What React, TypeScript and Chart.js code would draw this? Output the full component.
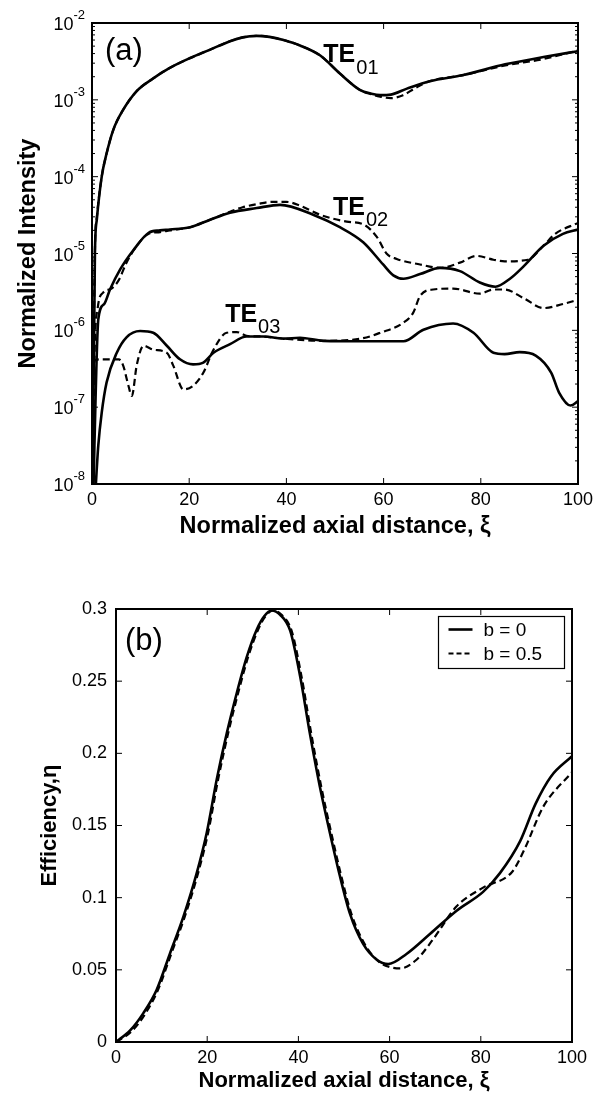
import React, { useEffect, useRef } from "react";
import { Chart, registerables } from "chart.js";

Chart.register(...registerables);

const FONT = "'Liberation Sans', Arial, Helvetica, sans-serif";

// ---------- Panel (a): normalized intensity (log) ----------
const te01SolidX = [0, 0.6, 1.0, 2.0, 3.0, 4.4, 6.4, 9.2, 12.6, 16, 20.2, 24.3, 28.4, 31, 33.9, 36.5, 39.4, 42.8, 46.9, 51, 55.1, 57.5, 59.3, 61.5, 64.8, 69.5, 76.4, 85, 92.9, 100];
const te01SolidY = [1e-9, 1.0e-5, 2.8e-5, 1.0e-4, 2.0e-4, 4.1e-4, 7.4e-4, 1.3e-3, 1.9e-3, 2.6e-3, 3.5e-3, 4.5e-3, 5.8e-3, 6.5e-3, 6.8e-3, 6.6e-3, 6.0e-3, 5.1e-3, 3.8e-3, 2.2e-3, 1.35e-3, 1.2e-3, 1.15e-3, 1.17e-3, 1.4e-3, 1.75e-3, 2.1e-3, 2.9e-3, 3.6e-3, 4.3e-3];
const te01DashX = [0, 0.6, 1.0, 2.0, 3.0, 4.4, 6.4, 9.2, 12.6, 16, 20.2, 24.3, 28.4, 31, 33.9, 36.5, 39.4, 42.8, 46.9, 51, 55.1, 57.5, 59.3, 61.5, 64, 66.5, 69.5, 76.4, 85, 92.9, 100];
const te01DashY = [1e-9, 1.1e-5, 3.0e-5, 1.0e-4, 2.0e-4, 4.1e-4, 7.4e-4, 1.3e-3, 1.9e-3, 2.6e-3, 3.5e-3, 4.5e-3, 5.8e-3, 6.5e-3, 6.8e-3, 6.6e-3, 6.0e-3, 5.1e-3, 3.8e-3, 2.2e-3, 1.35e-3, 1.18e-3, 1.1e-3, 1.05e-3, 1.15e-3, 1.42e-3, 1.75e-3, 2.1e-3, 2.8e-3, 3.4e-3, 4.4e-3];

const te02SolidX = [0, 0.5, 1.3, 2.5, 3.7, 5.8, 8.5, 11.6, 14, 16, 20.2, 24.3, 28.4, 33.9, 38.7, 45.5, 51, 55.8, 59.9, 62, 64.1, 67.5, 71.6, 75.7, 79.8, 83, 86, 88.9, 92.9, 96.9, 100];
const te02SolidY = [1e-9, 3.2e-8, 1.4e-6, 2.2e-6, 3.4e-6, 6.2e-6, 1.1e-5, 1.85e-5, 2.0e-5, 2.05e-5, 2.2e-5, 2.75e-5, 3.4e-5, 3.9e-5, 4.3e-5, 3.2e-5, 2.2e-5, 1.4e-5, 7.2e-6, 5.2e-6, 4.7e-6, 5.4e-6, 6.5e-6, 5.9e-6, 4.2e-6, 3.7e-6, 4.7e-6, 6.9e-6, 1.26e-5, 1.8e-5, 2.05e-5];
const te02DashX = [0, 0.5, 1.2, 2.3, 4, 5.5, 7.1, 9.2, 11.6, 14, 16, 20.2, 24.3, 28.4, 31, 34, 37, 40, 42.8, 46.9, 52.4, 55.8, 58.6, 60.6, 62.7, 67.5, 71.6, 75.7, 79.1, 82.6, 84.9, 89.7, 92.9, 95.3, 100];
const te02DashY = [1e-9, 4e-7, 2e-6, 3.1e-6, 3.5e-6, 4.5e-6, 7.6e-6, 1.26e-5, 1.8e-5, 1.9e-5, 2.0e-5, 2.2e-5, 2.75e-5, 3.5e-5, 4.0e-5, 4.4e-5, 4.7e-5, 4.7e-5, 4.2e-5, 3.2e-5, 2.6e-5, 2.4e-5, 1.65e-5, 1.0e-5, 8.5e-6, 7.2e-6, 6.5e-6, 7.6e-6, 9.3e-6, 8.3e-6, 7.9e-6, 8.3e-6, 1.26e-5, 1.8e-5, 2.5e-5];

const te03SolidX = [0, 0.8, 1.3, 2, 3, 5.1, 7.1, 9.9, 12.6, 15.4, 18.1, 20.8, 22.9, 25, 28.4, 31.8, 35.2, 39.4, 42.8, 47.6, 55.8, 64.1, 68.2, 74.3, 78.5, 82.6, 84.9, 88, 91.3, 94.5, 96.1, 98.5, 100];
const te03SolidY = [1e-9, 1e-8, 3.2e-8, 8.5e-8, 2.1e-7, 5.1e-7, 8.1e-7, 9.8e-7, 9.3e-7, 6.3e-7, 4.2e-7, 3.6e-7, 3.8e-7, 5.1e-7, 6.6e-7, 8.3e-7, 8.3e-7, 7.8e-7, 8.0e-7, 7.3e-7, 7.2e-7, 7.2e-7, 1.02e-6, 1.23e-6, 9.3e-7, 5.1e-7, 4.9e-7, 5.2e-7, 4.7e-7, 2.8e-7, 1.55e-7, 1.05e-7, 1.2e-7];
const te03DashX = [0, 0.4, 2, 4, 5.5, 6.4, 7.5, 8.2, 9.2, 10.6, 12.6, 15.4, 16.7, 18.8, 20.8, 22.9, 25, 27.7, 29.8, 31.8, 35.2, 39.4, 47.6, 55.8, 59.3, 64.1, 66.1, 67.5, 70.2, 74.3, 79.8, 82.6, 84.9, 88.9, 92.9, 96.9, 100];
const te03DashY = [1e-9, 4e-7, 4.2e-7, 4.2e-7, 4.2e-7, 3.5e-7, 1.9e-7, 1.4e-7, 3.5e-7, 6.3e-7, 5.6e-7, 5.1e-7, 3.5e-7, 1.7e-7, 1.9e-7, 2.8e-7, 5.6e-7, 9.3e-7, 9.5e-7, 8.5e-7, 8.3e-7, 7.8e-7, 7.3e-7, 7.9e-7, 9.3e-7, 1.26e-6, 1.7e-6, 2.8e-6, 3.4e-6, 3.5e-6, 3.0e-6, 3.4e-6, 3.4e-6, 2.6e-6, 1.95e-6, 2.2e-6, 2.5e-6];

const yExpA = [-8, -7, -6, -5, -4, -3, -2];
const xTicks = [0, 20, 40, 60, 80, 100];
const modeNames = ["TE", "TE", "TE"];
const modeSubs = ["01", "02", "03"];
const modeLabelX = [47.6, 49.6, 27.4];
const modeLabelY = [3.1e-3, 3.2e-5, 1.3e-6];

// ---------- Panel (b): efficiency ----------
const effSolidX = [0, 3.1, 6, 8.9, 11.8, 14.8, 17.7, 19.9, 22.1, 24.3, 26.5, 28.7, 30.9, 32.5, 34.1, 36, 38.2, 40.4, 42.5, 44.7, 46.9, 49.1, 51.3, 54.2, 57.2, 59.7, 63.7, 68.9, 74.7, 80.5, 84.2, 88.6, 92, 95.4, 100];
const effSolidY = [0, 0.008, 0.02, 0.036, 0.061, 0.087, 0.117, 0.145, 0.182, 0.214, 0.242, 0.267, 0.286, 0.295, 0.299, 0.296, 0.285, 0.253, 0.214, 0.177, 0.145, 0.115, 0.089, 0.068, 0.057, 0.054, 0.061, 0.075, 0.091, 0.104, 0.117, 0.139, 0.165, 0.184, 0.198];
const effDashX = [0, 3.3, 6.3, 9.2, 12.1, 15.1, 18.0, 20.2, 22.4, 24.6, 26.8, 29.0, 31.2, 32.8, 34.4, 36.3, 38.5, 40.7, 42.8, 45.0, 47.2, 49.4, 51.6, 54.5, 57.5, 60, 62.3, 65.9, 69.5, 74.7, 80.5, 86.9, 89.5, 93.7, 100];
const effDashY = [0, 0.007, 0.019, 0.036, 0.061, 0.087, 0.117, 0.145, 0.182, 0.214, 0.242, 0.267, 0.286, 0.295, 0.299, 0.296, 0.285, 0.253, 0.214, 0.177, 0.145, 0.115, 0.089, 0.068, 0.056, 0.052, 0.051, 0.057, 0.071, 0.094, 0.107, 0.118, 0.133, 0.163, 0.187];
const yTicksB = [0, 0.05, 0.1, 0.15, 0.2, 0.25, 0.3];
const legendLabels = ["b = 0", "b = 0.5"];

const toPts = (xs: number[], ys: number[]) => xs.map((x, i) => ({ x, y: ys[i] }));

const solidStyle = {
  borderColor: "#000",
  borderWidth: 2.6,
  pointRadius: 0,
  fill: false,
  cubicInterpolationMode: "monotone" as const,
};
const dashStyle = {
  borderColor: "#000",
  borderWidth: 2.2,
  borderDash: [7, 4],
  pointRadius: 0,
  fill: false,
  cubicInterpolationMode: "monotone" as const,
};

function line(ctx: CanvasRenderingContext2D, x1: number, y1: number, x2: number, y2: number) {
  ctx.beginPath();
  ctx.moveTo(x1, y1);
  ctx.lineTo(x2, y2);
  ctx.stroke();
}

const framePluginA = {
  id: "frameA",
  afterDraw(chart: any) {
    const ctx: CanvasRenderingContext2D = chart.ctx;
    const { left, right, top, bottom } = chart.chartArea;
    const xs = chart.scales.x;
    const ys = chart.scales.y;
    ctx.save();
    ctx.strokeStyle = "#000";
    ctx.lineWidth = 1;
    xTicks.forEach((v) => {
      if (v === xs.min || v === xs.max) return;
      const px = xs.getPixelForValue(v);
      line(ctx, px, bottom, px, bottom - 6);
      line(ctx, px, top, px, top + 6);
    });
    yExpA.forEach((e) => {
      const py = ys.getPixelForValue(Math.pow(10, e));
      line(ctx, left, py, left + 6, py);
      line(ctx, right, py, right - 6, py);
      if (e < yExpA[yExpA.length - 1]) {
        for (let m = 2; m <= 9; m++) {
          const pm = ys.getPixelForValue(m * Math.pow(10, e));
          line(ctx, left, pm, left + 3, pm);
          line(ctx, right, pm, right - 3, pm);
        }
      }
    });
    ctx.lineWidth = 2;
    ctx.strokeRect(left, top, right - left, bottom - top);

    // y tick labels 10^n
    ctx.fillStyle = "#000";
    ctx.textBaseline = "alphabetic";
    ctx.textAlign = "left";
    yExpA.forEach((e) => {
      const py = ys.getPixelForValue(Math.pow(10, e));
      const sup = String(e);
      ctx.font = `13px ${FONT}`;
      const sw = ctx.measureText(sup).width;
      ctx.font = `18px ${FONT}`;
      const bw = ctx.measureText("10").width;
      const xEnd = left - 7;
      ctx.fillText("10", xEnd - sw - bw, py + 7);
      ctx.font = `13px ${FONT}`;
      ctx.fillText(sup, xEnd - sw, py - 4);
    });

    // panel label
    ctx.font = `31px ${FONT}`;
    ctx.fillText("(a)", left + 13, top + 37);

    // mode labels
    modeNames.forEach((name, i) => {
      const px = xs.getPixelForValue(modeLabelX[i]);
      const py = ys.getPixelForValue(modeLabelY[i]);
      ctx.font = `bold 25px ${FONT}`;
      const w = ctx.measureText(name).width;
      ctx.fillText(name, px, py);
      ctx.font = `20px ${FONT}`;
      ctx.fillText(modeSubs[i], px + w + 1, py + 11.5);
    });
    ctx.restore();
  },
};

const framePluginB = {
  id: "frameB",
  afterDraw(chart: any) {
    const ctx: CanvasRenderingContext2D = chart.ctx;
    const { left, right, top, bottom } = chart.chartArea;
    const xs = chart.scales.x;
    const ys = chart.scales.y;
    ctx.save();
    ctx.strokeStyle = "#000";
    ctx.lineWidth = 1;
    xTicks.forEach((v) => {
      if (v === xs.min || v === xs.max) return;
      const px = xs.getPixelForValue(v);
      line(ctx, px, bottom, px, bottom - 6);
      line(ctx, px, top, px, top + 6);
    });
    yTicksB.forEach((v) => {
      if (v === ys.min || v === ys.max) return;
      const py = ys.getPixelForValue(v);
      line(ctx, left, py, left + 6, py);
      line(ctx, right, py, right - 6, py);
    });
    ctx.lineWidth = 2;
    ctx.strokeRect(left, top, right - left, bottom - top);

    ctx.fillStyle = "#000";
    ctx.textAlign = "left";
    ctx.textBaseline = "alphabetic";
    ctx.font = `31px ${FONT}`;
    ctx.fillText("(b)", left + 9, top + 41);

    // legend
    const bx = right - 133.5;
    const by = top + 7.5;
    const bw = 126;
    const bh = 52;
    ctx.fillStyle = "#fff";
    ctx.fillRect(bx, by, bw, bh);
    ctx.lineWidth = 1.2;
    ctx.strokeRect(bx, by, bw, bh);
    const rows = [by + 13, by + 37];
    ctx.lineWidth = 2.6;
    line(ctx, bx + 10, rows[0], bx + 34, rows[0]);
    ctx.lineWidth = 2.2;
    ctx.setLineDash([5, 3]);
    line(ctx, bx + 10, rows[1], bx + 34, rows[1]);
    ctx.setLineDash([]);
    ctx.fillStyle = "#000";
    ctx.font = `19px ${FONT}`;
    ctx.textBaseline = "middle";
    legendLabels.forEach((t, i) => ctx.fillText(t, bx + 45, rows[i] + 1));
    ctx.restore();
  },
};

export default function App() {
  const refA = useRef<HTMLCanvasElement>(null);
  const refB = useRef<HTMLCanvasElement>(null);

  useEffect(() => {
    Chart.defaults.font.family = FONT;
    Chart.defaults.color = "#000";

    const chartA = new Chart(refA.current!, {
      type: "line",
      data: {
        datasets: [
          { ...solidStyle, label: "TE01 b=0", data: toPts(te01SolidX, te01SolidY) },
          { ...dashStyle, label: "TE01 b=0.5", data: toPts(te01DashX, te01DashY) },
          { ...solidStyle, label: "TE02 b=0", data: toPts(te02SolidX, te02SolidY) },
          { ...dashStyle, label: "TE02 b=0.5", data: toPts(te02DashX, te02DashY) },
          { ...solidStyle, label: "TE03 b=0", data: toPts(te03SolidX, te03SolidY) },
          { ...dashStyle, label: "TE03 b=0.5", data: toPts(te03DashX, te03DashY) },
        ] as any,
      },
      options: {
        responsive: false,
        animation: false,
        events: [],
        layout: { padding: { top: 23, right: 28, bottom: 12, left: 0 } },
        plugins: { legend: { display: false }, tooltip: { enabled: false } },
        scales: {
          x: {
            type: "linear",
            min: 0,
            max: 100,
            grid: { display: false, drawTicks: false },
            border: { display: false },
            ticks: { stepSize: 20, padding: 5, color: "#000", font: { size: 18, family: FONT } },
            title: {
              display: true,
              text: "Normalized axial distance, \u03BE",
              color: "#000",
              font: { size: 23.5, weight: "bold", family: FONT, lineHeight: 1 },
              padding: { top: 0, bottom: 0 },
            },
            afterFit: (s: any) => { s.height = 54; },
          },
          y: {
            type: "logarithmic",
            min: 1e-8,
            max: 1e-2,
            grid: { display: false, drawTicks: false },
            border: { display: false },
            ticks: { display: false },
            title: {
              display: true,
              text: "Normalized Intensity",
              color: "#000",
              font: { size: 23.5, weight: "bold", family: FONT, lineHeight: 1 },
              padding: { top: 17, bottom: 0 },
            },
            afterFit: (s: any) => { s.width = 92; },
          },
        },
      } as any,
      plugins: [framePluginA],
    });

    const chartB = new Chart(refB.current!, {
      type: "line",
      data: {
        datasets: [
          { ...solidStyle, label: legendLabels[0], data: toPts(effSolidX, effSolidY) },
          { ...dashStyle, label: legendLabels[1], data: toPts(effDashX, effDashY) },
        ] as any,
      },
      options: {
        responsive: false,
        animation: false,
        events: [],
        layout: { padding: { top: 59, right: 34, bottom: 8, left: 0 } },
        plugins: { legend: { display: false }, tooltip: { enabled: false } },
        scales: {
          x: {
            type: "linear",
            min: 0,
            max: 100,
            grid: { display: false, drawTicks: false },
            border: { display: false },
            ticks: { stepSize: 20, padding: 5, color: "#000", font: { size: 18, family: FONT } },
            title: {
              display: true,
              text: "Normalized axial distance, \u03BE",
              color: "#000",
              font: { size: 22, weight: "bold", family: FONT, lineHeight: 1 },
              padding: { top: 0, bottom: 0 },
            },
            afterFit: (s: any) => { s.height = 50; },
          },
          y: {
            type: "linear",
            min: 0,
            max: 0.3,
            grid: { display: false, drawTicks: false },
            border: { display: false },
            ticks: {
              stepSize: 0.05,
              padding: 9,
              color: "#000",
              font: { size: 18, family: FONT },
              callback: (v: any) => String(Math.round(Number(v) * 100) / 100),
            },
            title: {
              display: true,
              text: "Efficiency,\u03B7",
              color: "#000",
              font: { size: 22, weight: "bold", family: FONT, lineHeight: 1 },
              padding: { top: 39, bottom: 0 },
            },
            afterFit: (s: any) => { s.width = 116; },
          },
        },
      } as any,
      plugins: [framePluginB],
    });

    return () => {
      chartA.destroy();
      chartB.destroy();
    };
  }, []);

  return (
    <div style={{ position: "absolute", left: 0, top: 0, width: 606, height: 1100, background: "#fff" }}>
      <canvas ref={refA} width={606} height={550} style={{ position: "absolute", left: 0, top: 0, display: "block" }} />
      <canvas ref={refB} width={606} height={550} style={{ position: "absolute", left: 0, top: 550, display: "block" }} />
    </div>
  );
}
